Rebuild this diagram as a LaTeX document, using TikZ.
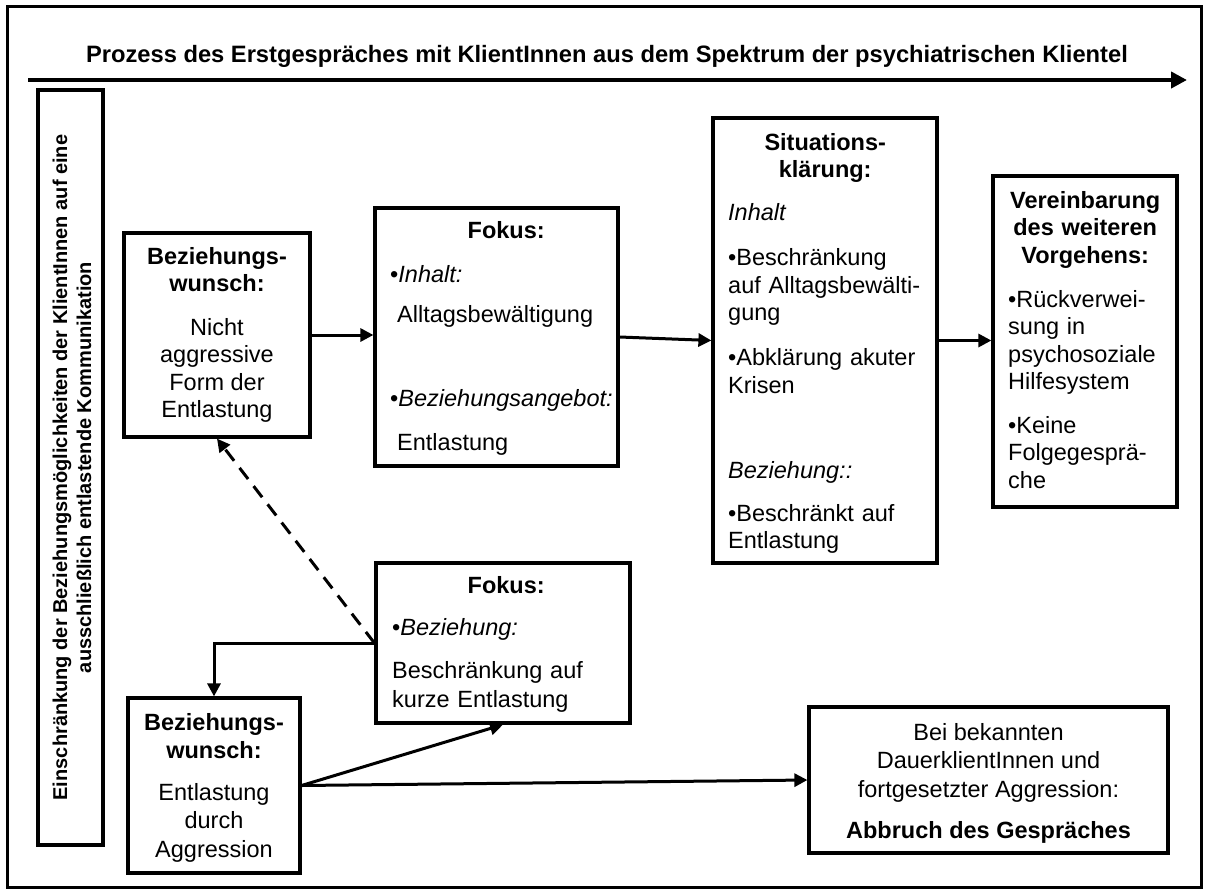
\documentclass[tikz,border=0pt]{standalone}
\usepackage{fontspec}
\setmainfont{Liberation Sans}
\usetikzlibrary{arrows.meta}

% body text, side text, first-line strut, centred line inside a left-aligned block
\newcommand\bodyfont{\fontsize{23.5pt}{27.5pt}\selectfont\parindent=0pt\relax}
\newcommand\sidefont{\fontsize{20pt}{24pt}\selectfont\bfseries}
\newcommand\ts{\rule{0pt}{20pt}}
\newcommand\ctr[1]{\hspace*{\fill}#1\hspace*{\fill}\null}

\begin{document}
\begin{tikzpicture}[x=1pt,y=-1pt,
  box/.style={draw, rectangle, line width=3.2pt, inner sep=0pt},
  txt/.style={inner sep=0pt, font=\bodyfont},
  conn/.style={line width=3pt, -{Triangle[length=13pt,width=13pt]}},
  dconn/.style={conn, dash pattern=on 14pt off 9pt},
  mainarrow/.style={line width=4pt, -{Triangle[length=16pt,width=16pt]}}
]
\useasboundingbox (0,0) rectangle (1205,892);

% outer frame
\draw[line width=3pt] (7,6) rectangle (1201,887);

% title and process arrow
\node[inner sep=0pt, anchor=base, font=\fontsize{23.7pt}{27.5pt}\selectfont\bfseries] (title) at (607,62)
  {Prozess des Erstgespräches mit KlientInnen aus dem Spektrum der psychiatrischen Klientel};
\coordinate (pstart) at (28,80);
\coordinate (pend) at (1187,80);
\draw[mainarrow] (pstart) -- (pend);

% side box
\node[box, minimum width=65pt, minimum height=755pt] (side) at (70.5,467.5) {};
\node[inner sep=0pt, rotate=90, align=center, font=\sidefont] (sidet) at (72,467.5)
  {Einschränkung der Beziehungsmöglichkeiten der KlientInnen auf eine\\ausschließlich entlastende Kommunikation};

% boxes
\node[box, minimum width=186pt, minimum height=204pt] (b1) at (217,335) {};
\node[box, minimum width=243pt, minimum height=258pt] (f1) at (496.5,337) {};
\node[box, minimum width=224pt, minimum height=445pt] (s) at (825,340.5) {};
\node[box, minimum width=184pt, minimum height=331pt] (v) at (1085,341.5) {};
\node[box, minimum width=254pt, minimum height=160pt] (f2) at (503,643) {};
\node[box, minimum width=172pt, minimum height=175pt] (b3) at (214,785.5) {};
\node[box, minimum width=359pt, minimum height=146pt] (a) at (988.5,780) {};

% box texts
\node[txt, anchor=north, align=center] (b1t) at (217,244)
  {\ts\textbf{Beziehungs-}\\\textbf{wunsch:}\\[16pt]Nicht\\aggressive\\Form der\\Entlastung};

\node[txt, anchor=north west, text width=232pt, align=left] (f1t) at (390,218)
  {\ts\ctr{\textbf{Fokus:}}\\[16.5pt]
   •\textit{Inhalt:}\\[12.5pt]
   \hspace*{7pt}Alltagsbewältigung\\[56.5pt]
   •\textit{Beziehungsangebot:}\\[16.5pt]
   \hspace*{7pt}Entlastung};

\node[txt, anchor=north west, text width=194pt, align=left] (st) at (728,130)
  {\ts\ctr{\textbf{Situations-}}\\
   \ctr{\textbf{klärung:}}\\[15.5pt]
   \textit{Inhalt}\\[17.5pt]
   •Beschränkung\\
   auf Alltagsbewälti-\\
   gung\\[17.5pt]
   •Abklärung akuter\\
   Krisen\\[57.5pt]
   \textit{Beziehung::}\\[15.5pt]
   •Beschränkt auf\\
   Entlastung};

\node[txt, anchor=north west, text width=154pt, align=left] (vt) at (1008,188)
  {\ts\ctr{\textbf{Vereinbarung}}\\
   \ctr{\textbf{des weiteren}}\\
   \ctr{\textbf{Vorgehens:}}\\[16.5pt]
   •Rückverwei-\\
   sung in\\
   psychosoziale\\
   Hilfesystem\\[16pt]
   •Keine\\
   Folgegesprä-\\
   che};

\node[txt, anchor=north west, text width=228pt, align=left] (f2t) at (392,573)
  {\ts\ctr{\textbf{Fokus:}}\\[14.5pt]
   •\textit{Beziehung:}\\[15.5pt]
   Beschränkung auf\\[1.5pt]
   kurze Entlastung};

\node[txt, anchor=north, align=center] (b3t) at (214,710)
  {\ts\textbf{Beziehungs-}\\[0.5pt]\textbf{wunsch:}\\[14.5pt]Entlastung\\[0.5pt]durch\\[1.5pt]Aggression};

\node[txt, anchor=north, align=center] (at) at (988.5,720)
  {\ts Bei bekannten\\[0.5pt]DauerklientInnen und\\[1.5pt]fortgesetzter Aggression:\\[13.5pt]\textbf{Abbruch des Gespräches}};

% connectors
\draw[conn] (b1.east) -- (b1.east -| f1.west);
\draw[conn] (f1.east) -- (s.west);
\draw[conn] (s.east) -- (s.east -| v.west);
\draw[dconn] (f2.west) -- (b1.south);
\draw[conn] (f2.west) -| (b3.north);
\draw[conn] (b3.east) -- (f2.south);
\draw[conn] (b3.east) -- (a.west);
\end{tikzpicture}
\end{document}
